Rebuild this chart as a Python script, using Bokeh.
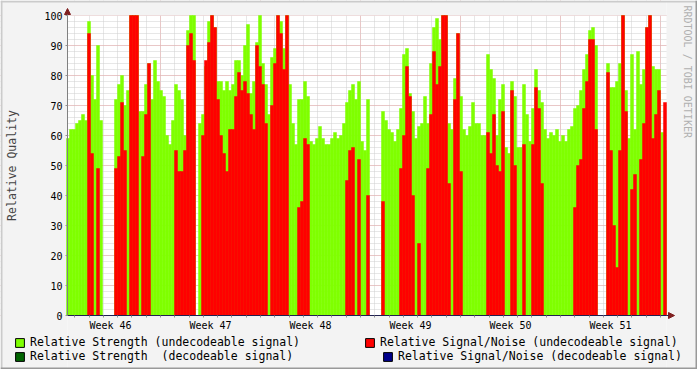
import math
import numpy as np
from bokeh.plotting import figure
from bokeh.models import (FixedTicker, Legend, LegendItem, Range1d, Label, Grid,
                          LinearAxis, Arrow, NormalHead, BoxAnnotation)
from bokeh.embed import file_html
from bokeh.resources import INLINE

N = None  # no sample (gap in the data)

# Relative Strength (undecodeable signal), one sample per 0.21 day
strength_undec = [
    59, 62, 62, 64, 65, 67, 65, 98, 80, 72, 90, 65, N, N, N, N,
    72, 77, 80, 70, 75, 100, 100, 100, 68, 68, 77, 84, 72, 85, 78, 75,
    73, 60, 57, 65, 77, 75, 72, 60, 95, 100, 100, N, 64, 67, 83, 98,
    100, 96, 78, 78, 75, 78, 75, 77, 85, 85, 80, 90, 97, 74, 78, 91,
    100, 84, 77, 67, 86, 89, 100, 98, 89, 100, 77, 64, 57, 72, 72, 78,
    73, 58, 57, 59, 63, 59, 57, 57, 59, 61, 59, 60, 64, 71, 75, 77,
    72, 78, 58, 55,
    72, N, N, N, N, 68, 65, 62, 61, 58, 62, 69, 87, 89, 74, 68,
    59, 63, 64, 73, 64, 84, 96, 99, 92, 100, 100, 64, 62, 79, 94, 73,
    62, 60, 63, 71, 64, 64, 60, 60, 87, 82, 79, 60, 72, 77, 56, 54,
    78, 73, 56, 56, 77, 67, 58, 69, 82, 75, 71, 62, 59, 61, 60, 62,
    58, 60, 58, 62, 63, 69, 70, 75, 82, 87, 95, 96, 90, N, N, N,
    84, 76, 76, 78, 84, 100, 75, 59, 87, 62, 88, 77, 82, 96, 100, 83,
    82, 82, 61, 55,
]

# Relative Signal/Noise (undecodeable signal)
snr_undec = [
    0, 0, 0, 0, 0, 0, 0, 94, 54, 0, 49, 0, N, N, N, N,
    49, 53, 71, 55, 0, 100, 100, 100, 0, 53, 67, 84, 0, 0, 0, 0,
    0, 0, 0, 0, 55, 48, 48, 55, 90, 94, 85, N, 0, 60, 85, 91,
    100, 96, 72, 60, 54, 48, 62, 62, 73, 81, 75, 78, 74, 67, 62, 90,
    83, 77, 64, 0, 70, 84, 100, 94, 82, 100, 0, 0, 0, 36, 38, 59,
    57, 0, 0, 0, 0, 0, 0, 0, 0, 0, 0, 0, 0, 45, 55, 56,
    0, 52, 0, 0,
    40, N, N, N, N, 38, 0, 0, 0, 0, 0, 49, 60, 83, 73, 40,
    0, 24, 0, 0, 49, 67, 88, 77, 83, 100, 100, 44, 0, 72, 94, 48,
    0, 0, 0, 0, 0, 0, 0, 0, 61, 54, 67, 50, 48, 68, 0, 0,
    75, 50, 0, 0, 57, 0, 0, 57, 76, 69, 44, 0, 0, 0, 0, 0,
    0, 0, 0, 0, 0, 36, 50, 52, 69, 78, 92, 92, 62, N, N, N,
    81, 55, 30, 16, 55, 100, 68, 0, 42, 47, 0, 52, 64, 96, 100, 59,
    67, 75, 0, 71,
]

# decodeable series: no decodeable samples in this period
strength_dec = [N] * len(strength_undec)
snr_dec = [N] * len(strength_undec)

week_labels = ["Week 46", "Week 47", "Week 48", "Week 49", "Week 50", "Week 51"]
y_ticks = list(range(0, 101, 10))
y_minor = list(range(0, 101, 2))

# time axis: days since start of week 46
sample_days = 0.21
first_sample_center = 0.525
t = first_sample_center + sample_days * np.arange(len(strength_undec))
g = np.array(strength_undec, dtype=float)
r = np.array(snr_undec, dtype=float)
r[r == 0] = np.nan
gd = np.array(strength_dec, dtype=float)
rd = np.array(snr_dec, dtype=float)

week_starts = [7 * (i + 1) for i in range(len(week_labels))]
week_mids = [7 * i + 3.5 for i in range(len(week_labels))]
days = list(range(0, 43))

# plotted window (data units) and the whole-canvas view around it
T_START, T_END = 0.49, 42.42
V_MIN, V_MAX = 0, 100
W, H = 697, 369
X0, X1 = -4.2, 44.59
Y0, Y1 = -18, 105

def dx(px):   # canvas pixel column -> data x
    return X0 + px * (X1 - X0) / W

def dy(py):   # canvas pixel row (from top) -> data y
    return Y1 - py * (Y1 - Y0) / H

FONT = "DejaVu Sans Mono"
BG = "#f3f3f3"
GREEN, RED, DKGREEN, NAVY = "#7FFF00", "#FF0000", "#006400", "#00008B"

p = figure(width=W, height=H, output_backend="svg", toolbar_location=None,
           x_range=Range1d(X0, X1), y_range=Range1d(Y0, Y1),
           x_axis_location=None, y_axis_location=None, min_border=0)
p.border_fill_color = BG
p.background_fill_color = "white"
p.outline_line_color = None
p.renderers = [rr for rr in p.renderers if not isinstance(rr, Grid)]
p.center = [c for c in p.center if not isinstance(c, Grid)]

# grids
xg = Grid(dimension=0, ticker=FixedTicker(ticks=week_starts, minor_ticks=days))
yg = Grid(dimension=1, ticker=FixedTicker(ticks=y_ticks, minor_ticks=y_minor))
for gr in (xg, yg):
    gr.grid_line_color = "#eba6a6"
    gr.grid_line_dash = "1 1"
    gr.grid_line_width = 1
    gr.minor_grid_line_color = "#cfcfcf"
    gr.minor_grid_line_dash = "1 1"
    p.add_layout(gr)

# grey surround outside the plotting window (covers the grid there)
for l, rgt, b, tp in [(X0, T_START, Y0, Y1), (T_END, X1, Y0, Y1),
                      (T_START, T_END, V_MAX, Y1), (T_START, T_END, Y0, V_MIN)]:
    p.add_layout(BoxAnnotation(left=l, right=rgt, bottom=b, top=tp, fill_color=BG,
                               fill_alpha=1, line_color=None, level="underlay"))

# bars: strength first, signal/noise drawn over it
r_g = p.vbar(x=t, width=sample_days, top=g, bottom=0, fill_color=GREEN,
             line_color=GREEN, line_width=0.5)
r_r = p.vbar(x=t, width=sample_days, top=r, bottom=0, fill_color=RED,
             line_color=RED, line_width=0.5)
r_gd = p.vbar(x=t, width=sample_days, top=gd, bottom=0, fill_color=DKGREEN, line_color=None)
r_rd = p.vbar(x=t, width=sample_days, top=rd, bottom=0, fill_color=NAVY, line_color=None)

# axes, pinned to the plotting window
xa = LinearAxis(fixed_location=V_MIN, bounds=(T_START, T_END),
                ticker=FixedTicker(ticks=week_mids, minor_ticks=days))
xa.major_label_overrides = {m: lab for m, lab in zip(week_mids, week_labels)}
xa.major_tick_out = 0
xa.major_tick_in = 0
xa.minor_tick_out = 2
xa.minor_tick_in = 0
xa.minor_tick_line_color = "#909090"
xa.axis_line_color = "#202050"
xa.major_label_text_font = FONT
xa.major_label_text_font_size = "10px"
xa.major_label_text_color = "black"
xa.major_label_standoff = 2
p.add_layout(xa, "below")

ya = LinearAxis(fixed_location=T_START, bounds=(V_MIN, V_MAX),
                ticker=FixedTicker(ticks=y_ticks, minor_ticks=y_minor))
ya.major_tick_out = 2
ya.major_tick_in = 0
ya.minor_tick_out = 0
ya.minor_tick_in = 0
ya.major_tick_line_color = "#909090"
ya.axis_line_color = "#808080"
ya.major_label_text_font = FONT
ya.major_label_text_font_size = "10px"
ya.major_label_text_color = "black"
ya.major_label_standoff = 3
ya.axis_label = "Relative Quality"
ya.axis_label_text_font = FONT
ya.axis_label_text_font_style = "normal"
ya.axis_label_text_font_size = "11.5px"
ya.axis_label_standoff = 22
p.add_layout(ya, "left")

# axis arrows
head_col = "#7f1f1f"
p.add_layout(Arrow(x_start=T_START, y_start=V_MAX, x_end=T_START, y_end=dy(8),
                   line_color="#808080", line_width=1,
                   end=NormalHead(size=6, fill_color=head_col, line_color=head_col)))
p.add_layout(Arrow(x_start=T_END, y_start=V_MIN, x_end=dx(674), y_end=V_MIN,
                   line_color="#202050", line_width=1,
                   end=NormalHead(size=6, fill_color=head_col, line_color=head_col)))

# vertical credit text on the right
p.add_layout(Label(x=dx(687), y=dy(5), text="RRDTOOL / TOBI OETIKER",
                   angle=-math.pi / 2, text_align="left", text_baseline="middle",
                   text_font=FONT, text_font_size="10px", text_color="#b0b0b0"))

# legend swatch renderers (black outline, nothing drawn in the plot)
def swatch(color):
    return p.vbar(x=t, width=sample_days, top=gd, bottom=0, fill_color=color,
                  line_color="black", line_width=1)

lg_items = [
    ("Relative Strength (undecodeable signal)", GREEN, (14, 20)),
    ("Relative Strength  (decodeable signal)", DKGREEN, (14, 6)),
    ("Relative Signal/Noise (undecodeable signal)", RED, (364, 20)),
    ("Relative Signal/Noise (decodeable signal)", NAVY, (382, 6)),
]
for label, col, loc in lg_items:
    lg = Legend(items=[LegendItem(label=label, renderers=[swatch(col)])], location=loc,
                border_line_color=None, background_fill_alpha=0, padding=0,
                margin=0, spacing=0, glyph_width=11, glyph_height=11,
                label_height=11, label_standoff=5, label_text_font=FONT,
                label_text_font_size="11.5px", label_text_color="black")
    p.add_layout(lg)

# canvas edge shading (light top/left, dark bottom/right)
edge = 2
for l, rgt, b, tp, col in [
        (X0, X1, dy(edge), Y1, "#cbcbcb"), (X0, dx(edge), Y0, Y1, "#cbcbcb"),
        (X0, X1, Y0, dy(H - edge), "#999999"), (dx(W - edge), X1, Y0, Y1, "#999999")]:
    p.add_layout(BoxAnnotation(left=l, right=rgt, bottom=b, top=tp, fill_color=col,
                               fill_alpha=1, line_color=None))

open("out.html", "w").write(file_html(p, INLINE))
